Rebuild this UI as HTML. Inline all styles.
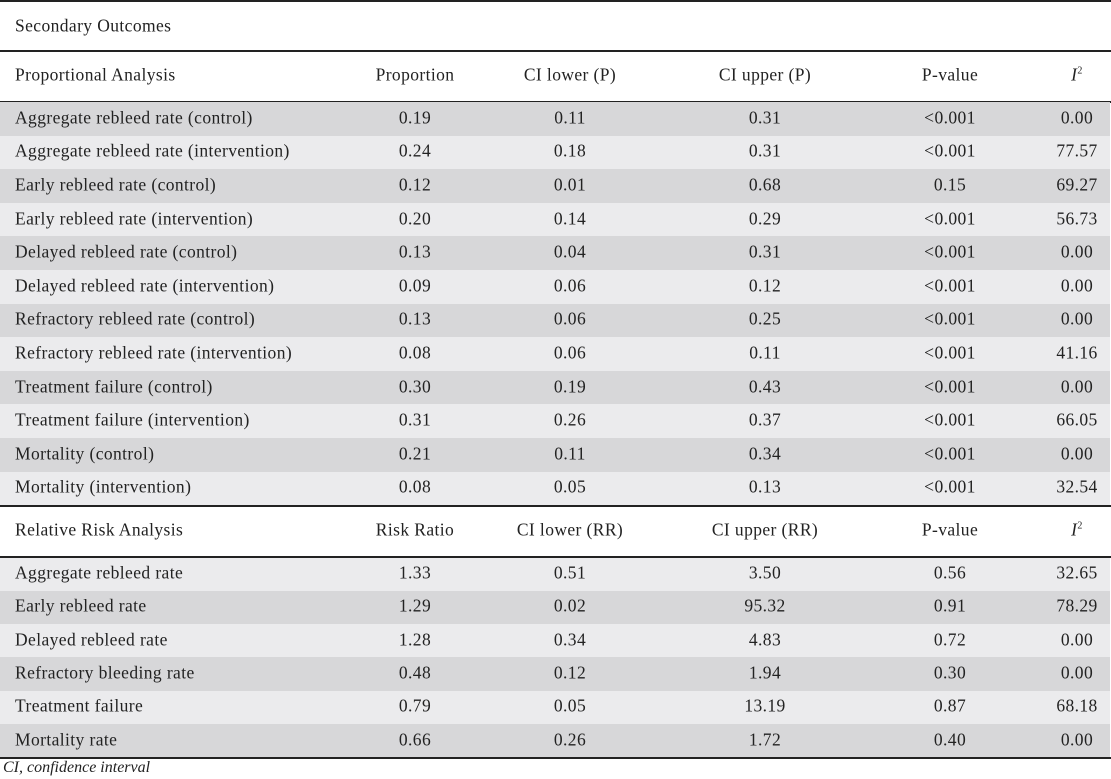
<!DOCTYPE html>
<html><head><meta charset="utf-8"><style>
body{margin:0;width:1111px;height:779px;background:#fff;position:relative;font-family:"Liberation Serif",serif;font-size:17.5px;letter-spacing:0.4px;color:#222;overflow:hidden}
.r{position:absolute;left:0;width:1110px}
.t{position:absolute;white-space:nowrap;transform:translate(-50%,-50%)}
.l{position:absolute;white-space:nowrap;left:15px;transform:translateY(-50%)}
.hl{position:absolute;left:0;width:1111px;height:1.5px;background:#222}
</style></head><body>
<div class="hl" style="top:0"></div>
<div class="l" style="top:26px">Secondary Outcomes</div>
<div class="hl" style="top:50px"></div>
<div id="c"></div>
<script>
const P=[["Aggregate rebleed rate (control)","0.19","0.11","0.31","<0.001","0.00"],
["Aggregate rebleed rate (intervention)","0.24","0.18","0.31","<0.001","77.57"],
["Early rebleed rate (control)","0.12","0.01","0.68","0.15","69.27"],
["Early rebleed rate (intervention)","0.20","0.14","0.29","<0.001","56.73"],
["Delayed rebleed rate (control)","0.13","0.04","0.31","<0.001","0.00"],
["Delayed rebleed rate (intervention)","0.09","0.06","0.12","<0.001","0.00"],
["Refractory rebleed rate (control)","0.13","0.06","0.25","<0.001","0.00"],
["Refractory rebleed rate (intervention)","0.08","0.06","0.11","<0.001","41.16"],
["Treatment failure (control)","0.30","0.19","0.43","<0.001","0.00"],
["Treatment failure (intervention)","0.31","0.26","0.37","<0.001","66.05"],
["Mortality (control)","0.21","0.11","0.34","<0.001","0.00"],
["Mortality (intervention)","0.08","0.05","0.13","<0.001","32.54"]];
const R=[["Aggregate rebleed rate","1.33","0.51","3.50","0.56","32.65"],
["Early rebleed rate","1.29","0.02","95.32","0.91","78.29"],
["Delayed rebleed rate","1.28","0.34","4.83","0.72","0.00"],
["Refractory bleeding rate","0.48","0.12","1.94","0.30","0.00"],
["Treatment failure","0.79","0.05","13.19","0.87","68.18"],
["Mortality rate","0.66","0.26","1.72","0.40","0.00"]];
const X=[415,570,765,950,1077];
let h="";
function esc(s){return s.replace(/</g,"&lt;")}
function row(d,y,hgt,bg){
 if(bg)h+=`<div class="r" style="top:${y}px;height:${hgt}px;background:${bg}"></div>`;
 const cy=y+hgt/2-1;
 h+=`<div class="l" style="top:${cy}px">${esc(d[0])}</div>`;
 for(let i=1;i<6;i++){let v=esc(d[i]);if(v=="I2")v='<i>I</i><sup style="font-size:10px">2</sup>';
 h+=`<div class="t" style="left:${X[i-1]}px;top:${cy}px">${v}</div>`;}
}
row(["Proportional Analysis","Proportion","CI lower (P)","CI upper (P)","P-value","I2"],51,50,null);
h+=`<div class="hl" style="top:101px"></div>`;
P.forEach((d,i)=>row(d,102+i*33.6,33.6,i%2?"#ebebed":"#d7d7d9"));
h+=`<div class="hl" style="top:505px"></div>`;
row(["Relative Risk Analysis","Risk Ratio","CI lower (RR)","CI upper (RR)","P-value","I2"],506,50,null);
h+=`<div class="hl" style="top:556px"></div>`;
R.forEach((d,i)=>row(d,557.5+i*33.3,33.3,i%2?"#d7d7d9":"#ebebed"));
h+=`<div class="hl" style="top:757px"></div>`;
h+=`<div class="l" style="left:3px;top:768px;font-style:italic;font-size:16px;letter-spacing:0">CI, confidence interval</div>`;
document.getElementById("c").innerHTML=h;
</script>
</body></html>
